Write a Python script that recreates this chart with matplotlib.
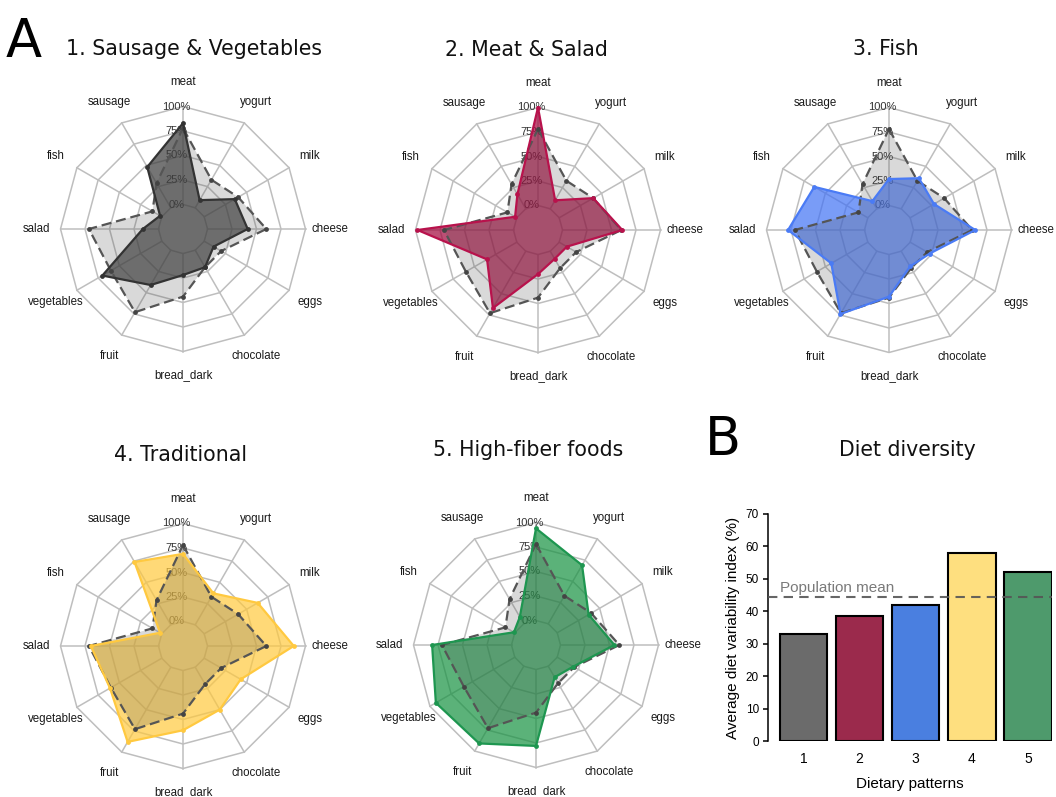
import numpy as np
import matplotlib
matplotlib.use("Agg")
import matplotlib.pyplot as plt

plt.rcParams['font.family'] = ['Liberation Sans', 'DejaVu Sans']

# ---------------- data ----------------
categories = ['meat', 'yogurt', 'milk', 'cheese', 'eggs', 'chocolate',
              'bread_dark', 'fruit', 'vegetables', 'salad', 'fish', 'sausage']
population_mean = [78, 33, 40, 60, 20, 20, 44, 73, 60, 71, 11, 29]
pattern1 = [83, 9, 36, 41, 11, 20, 22, 41, 70, 16, 2, 48]
pattern2 = [100, 10, 40, 61, 9, 9, 20, 67, 35, 98, 2, 17]
pattern3 = [27, 36, 28, 63, 23, 18, 43, 74, 43, 78, 63, 9]
pattern4 = [69, 37, 63, 88, 43, 50, 61, 88, 61, 69, 2, 74]
pattern5 = [94, 69, 37, 55, 19, 13, 78, 91, 93, 81, 1, 8]
pattern_titles = ['1. Sausage & Vegetables', '2. Meat & Salad', '3. Fish',
                  '4. Traditional', '5. High-fiber foods']
levels = [0, 25, 50, 75, 100]

diet_patterns = ['1', '2', '3', '4', '5']
diversity = [33, 38.5, 42, 58, 52]
diversity_pop_mean = 44.5

# ---------------- style ----------------
fill_colors = ['#3a3a3a', '#a1043a', '#4172f5', '#ffc93e', '#169241']
line_colors = ['#333333', '#b8124c', '#4a7bf5', '#ffc940', '#1e9650']
bar_colors = ['#6b6b6b', '#9b2a4c', '#4a7fe0', '#fedf7f', '#4e9a6c']
grid_color = '#bebebe'
ref_color = '#555555'

W, H = 1056, 797
fig = plt.figure(figsize=(W / 100, H / 100), dpi=100)


def rect_px(cx, cy, r):
    return [(cx - r) / W, 1 - (cy + r) / H, 2 * r / W, 2 * r / H]


centers = [(183, 229), (538, 230), (889, 230), (183, 646), (536, 645)]
R = 122.5
patterns = [pattern1, pattern2, pattern3, pattern4, pattern5]
theta = np.arange(len(categories)) * 2 * np.pi / len(categories)
tc = np.append(theta, theta[0])


def closed(v):
    return list(v) + [v[0]]


for i, (c, vals) in enumerate(zip(centers, patterns)):
    ax = fig.add_axes(rect_px(c[0], c[1], R), projection='polar')
    ax.set_theta_offset(np.pi / 2)
    ax.set_theta_direction(-1)
    ax.set_ylim(-25, 100)
    ax.axis('off')
    for lev in levels:
        ax.plot(tc, [lev] * len(tc), color=grid_color, lw=1.1, zorder=1,
                clip_on=False)
    for t in theta:
        ax.plot([t, t], [0, 100], color=grid_color, lw=1.1, zorder=1,
                clip_on=False)
    for lev in levels:
        ax.annotate(f'{lev}%', xy=(0, lev), xytext=(-4.5, 0),
                    textcoords='offset points', ha='center', va='center',
                    fontsize=8, color='#333333', zorder=1.5)
    for t, name in zip(theta, categories):
        ax.text(t, 124.5, name, ha='center', va='center', fontsize=8.3,
                color='#1a1a1a', clip_on=False)
    ax.fill(tc, closed(vals), color=fill_colors[i], alpha=0.7, lw=0,
            zorder=2)
    ax.fill(tc, closed(population_mean), color=ref_color, alpha=0.22, lw=0,
            zorder=3)
    ax.plot(tc, closed(population_mean), color=ref_color, lw=1.6,
            ls=(0, (4.5, 2.2)), zorder=4, clip_on=False)
    ax.scatter(theta, population_mean, s=12, color='#444444', zorder=5,
               clip_on=False, lw=0)
    ax.plot(tc, closed(vals), color=line_colors[i], lw=1.6, zorder=6,
            clip_on=False)
    ax.scatter(theta, vals, s=12, color=line_colors[i], zorder=7,
               clip_on=False, lw=0)

# titles
title_pos = [(194, 55), (526, 56), (886, 55), (180, 461), (528, 456)]
for (x, y), t in zip(title_pos, pattern_titles):
    fig.text(x / W, 1 - y / H, t, ha='center', va='baseline', fontsize=14.8,
             family='DejaVu Sans', color='#111111')
fig.text(6 / W, 1 - 57 / H, 'A', ha='left', va='baseline', fontsize=38,
         family='DejaVu Sans')
fig.text(705 / W, 1 - 455 / H, 'B', ha='left', va='baseline', fontsize=38,
         family='DejaVu Sans')
fig.text(907 / W, 1 - 456 / H, 'Diet diversity', ha='center',
         va='baseline', fontsize=14.8, family='DejaVu Sans', color='#111111')

# ---------------- bar chart ----------------
bx0, bx1, by0, by1 = 768, 1052, 741, 514
axb = fig.add_axes([bx0 / W, 1 - by0 / H, (bx1 - bx0) / W, (by0 - by1) / H])
xpos = np.arange(1, len(diet_patterns) + 1)
axb.bar(xpos, diversity, width=0.85, color=bar_colors, edgecolor='black',
        lw=1.5, zorder=2)
axb.axhline(diversity_pop_mean, color=ref_color, lw=1.5, ls=(0, (4.5, 3)),
            zorder=3, alpha=0.9)
axb.text(0.58, diversity_pop_mean + 0.6, 'Population mean', ha='left',
         va='bottom', fontsize=11, color='#7a7a7a')
axb.set_xlim(0.37, 5.43)
axb.set_ylim(0, 70)
axb.set_yticks(range(0, 71, 10))
axb.set_xticks(xpos)
axb.set_xticklabels(diet_patterns)
for s in ['top', 'right', 'bottom']:
    axb.spines[s].set_visible(False)
axb.spines['left'].set_linewidth(1.1)
axb.tick_params(axis='y', length=3.5, width=1.1, labelsize=8.5, pad=3)
axb.tick_params(axis='x', length=0, labelsize=10, pad=8)
axb.set_ylabel('Average diet variability index (%)', fontsize=11, labelpad=4)
axb.set_xlabel('Dietary patterns', fontsize=11, labelpad=8)

fig.savefig('out.png', dpi=100)
